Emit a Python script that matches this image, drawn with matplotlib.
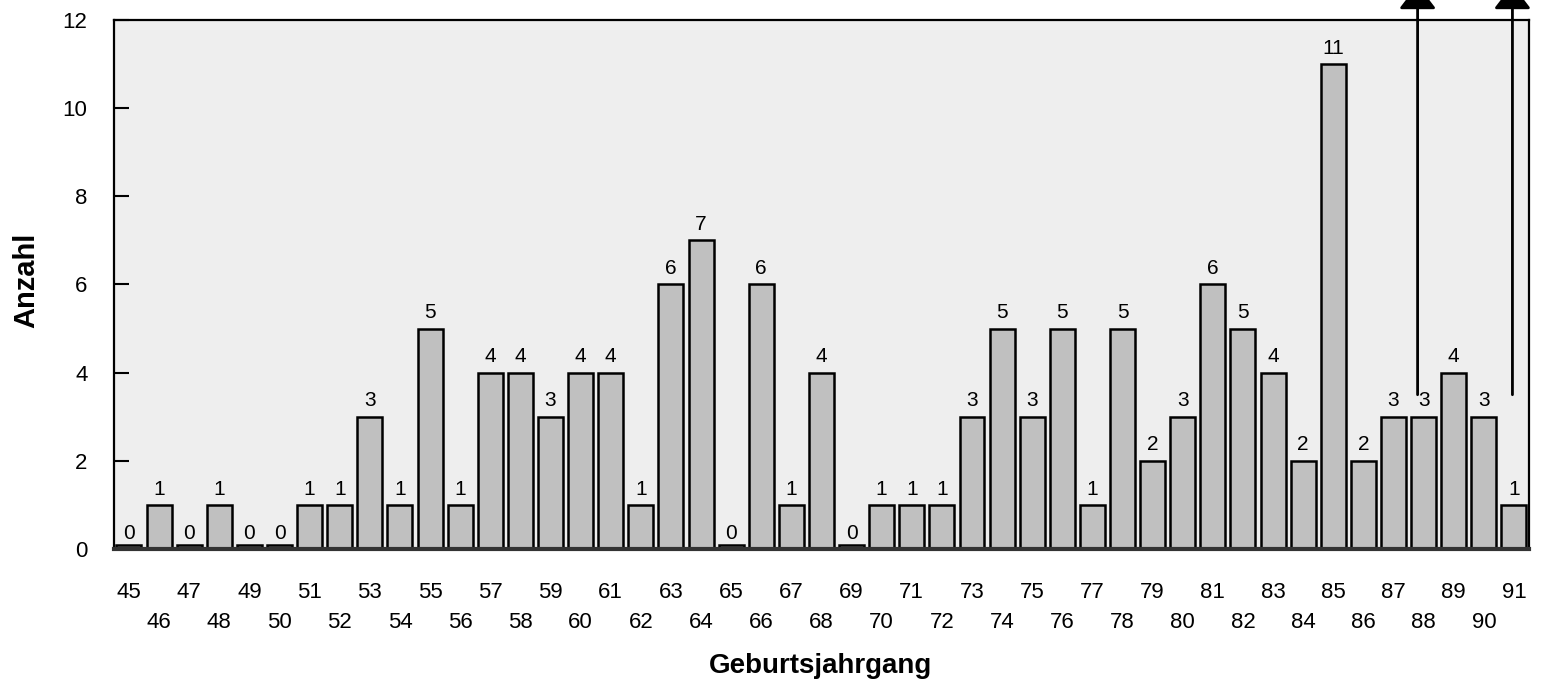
import matplotlib
matplotlib.use("Agg")
import matplotlib.pyplot as plt
from matplotlib.transforms import blended_transform_factory

# Geburtsjahrgang 45..91 und Anzahl
years = list(range(45, 92))
counts = [0, 1, 0, 1, 0, 0, 1, 1, 3, 1, 5, 1, 4, 4, 3, 4, 4, 1, 6, 7,
          0, 6, 1, 4, 0, 1, 1, 1, 3, 5, 3, 5, 1, 5, 2, 3, 6, 5, 4, 2,
          11, 2, 3, 3, 4, 3, 1]
# arrows sticking out at the top right (x in bar positions, start height)
arrow_x = [42.8, 45.95]
arrow_start = [3.5, 3.5]

plt.rcParams['font.family'] = ['Liberation Sans', 'DejaVu Sans']

fig = plt.figure(figsize=(15.46, 6.88), dpi=100)
ax = fig.add_axes([0.0737, 0.202, 0.9153, 0.769])
ax.set_facecolor('#eeeeee')

pos = list(range(len(years)))
heights = [c if c > 0 else 0.1 for c in counts]
ax.bar(pos, heights, width=0.83, color='#c0c0c0', edgecolor='black', linewidth=1.8, zorder=2)

for p, c in zip(pos, counts):
    ax.annotate(str(c), xy=(p, c), xytext=(0, 7.5), textcoords='offset points',
                ha='center', va='baseline', fontsize=15)

ax.set_xlim(-0.5, len(years) - 0.5)
ax.set_ylim(0, 12)
ax.set_yticks(range(0, 13, 2))
ax.tick_params(axis='y', direction='in', length=11, width=1.5, labelsize=16, pad=19)
ax.set_xticks([])

# two-row x labels
trans = blended_transform_factory(ax.transData, ax.transAxes)
for i, y in enumerate(years):
    off = -0.082 if i % 2 == 0 else -0.139
    ax.text(i, off, str(y), transform=trans, ha='center', va='center', fontsize=16)

for s in ['left', 'top', 'right']:
    ax.spines[s].set_linewidth(1.6)
ax.spines['bottom'].set_linewidth(3)
ax.spines['bottom'].set_color('#333333')

for x, y0 in zip(arrow_x, arrow_start):
    ax.annotate('', xy=(x, 12.8), xytext=(x, y0),
                arrowprops=dict(arrowstyle='-|>,head_length=1.5,head_width=1.15',
                                mutation_scale=10, lw=2, color='black',
                                shrinkA=0, shrinkB=0),
                annotation_clip=False)

fig.text(0.017, 0.592, 'Anzahl', rotation=90, ha='center', va='center',
         fontsize=21, fontweight='bold')
fig.text(0.531, 0.022, 'Geburtsjahrgang', ha='center', va='baseline', fontsize=20, fontweight='bold')

fig.savefig('out.png', dpi=100)
